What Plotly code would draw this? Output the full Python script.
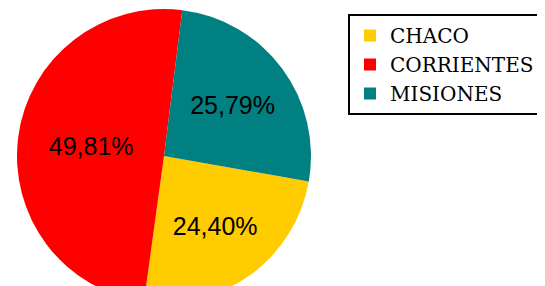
import plotly.graph_objects as go

labels = ["CHACO", "CORRIENTES", "MISIONES"]
values = [24.40, 49.81, 25.79]
colors = ["#FFCC00", "#FF0000", "#008080"]

# page body has an 8px margin; the figure runs past the bottom of the window like the reference
W, H = 537, 296

fig = go.Figure(go.Pie(
    labels=labels,
    values=values,
    sort=False,
    direction="clockwise",
    rotation=100,
    marker=dict(colors=colors, line=dict(width=0)),
    textposition="inside",
    texttemplate="%{percent:.2%}",
    insidetextfont=dict(family="Liberation Sans", size=25, color="black"),
    insidetextorientation="horizontal",
    hoverinfo="label+percent",
    domain=dict(x=[9 / W, 303 / W], y=[0.0, 1.0]),
))

fig.update_layout(
    width=W, height=H,
    margin=dict(l=0, r=0, t=0, b=0),
    paper_bgcolor="white",
    plot_bgcolor="white",
    separators=",.",
    font=dict(family="DejaVu Serif", color="black"),
    showlegend=True,
    legend=dict(
        x=340 / W, y=1 - 6 / H, xanchor="left", yanchor="top",
        bordercolor="black", borderwidth=2,
        font=dict(family="DejaVu Serif", size=20, color="black"),
        traceorder="normal",
        bgcolor="white",
    ),
)

fig.write_html("out.html")
